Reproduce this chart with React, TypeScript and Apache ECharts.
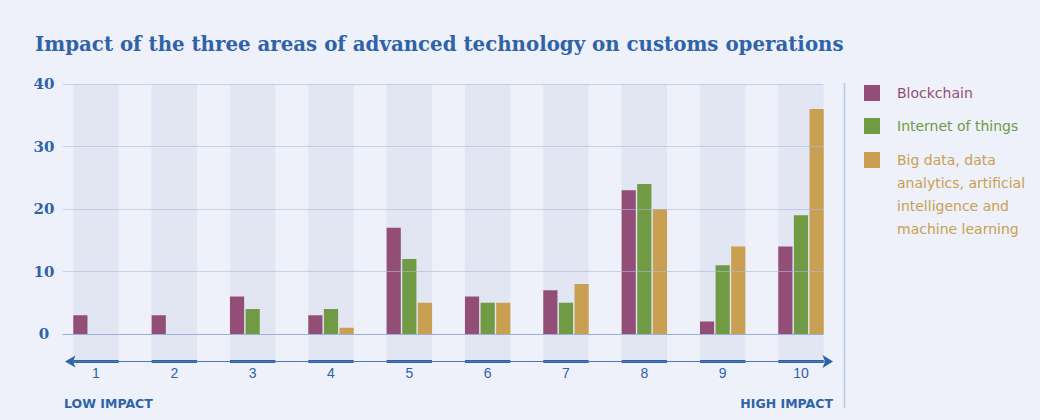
import React, { useEffect, useRef } from "react";
import * as echarts from "echarts";

const TITLE = "Impact of the three areas of advanced technology on customs operations";
const CATEGORIES = ["1", "2", "3", "4", "5", "6", "7", "8", "9", "10"];
const SERIES_NAMES = [
  "Blockchain",
  "Internet of things",
  "Big data, data analytics, artificial intelligence and machine learning",
];
const LEGEND_LABELS = [
  "Blockchain",
  "Internet of things",
  "Big data, data\nanalytics, artificial\nintelligence and\nmachine learning",
];
const BLOCKCHAIN = [3, 3, 6, 3, 17, 6, 7, 23, 2, 14];
const IOT = [0, 0, 4, 4, 12, 5, 5, 24, 11, 19];
const BIG_DATA = [0, 0, 0, 1, 5, 5, 8, 20, 14, 36];
const Y_MIN = 0;
const Y_MAX = 40;
const Y_INTERVAL = 10;
const LOW_LABEL = "LOW IMPACT";
const HIGH_LABEL = "HIGH IMPACT";

const BG = "#eef1f9";
const BAND = "#e1e6f2";
const BLUE = "#2f63a8";
const COLORS = ["#934e78", "#709a44", "#c9a052"];
const VALUES = [BLOCKCHAIN, IOT, BIG_DATA];

// layout constants
const PX_PER_UNIT = 250 / 40;
const AXIS_Y = 361.5;
const BAND_MIN = -(AXIS_Y - 334) / PX_PER_UNIT;
const LINE_H = 23;
// tall legend icon: square near the top, invisible zero-area anchors at top and bottom
const TALL_ICON = "path://M0,0L0.01,0M0,3.5L16,3.5L16,19.5L0,19.5ZM0,92L0.01,92";

export default function App() {
  const ref = useRef<HTMLDivElement>(null);

  useEffect(() => {
    document.body.style.margin = "0";
    if (!ref.current) return;
    const chart = echarts.init(ref.current, undefined, { renderer: "svg" });

    const barSeries = VALUES.map((vals, i) => ({
      type: "bar",
      name: SERIES_NAMES[i],
      xAxisIndex: 1,
      yAxisIndex: 1,
      data: vals,
      barCategoryGap: "42%",
      barGap: "10%",
      itemStyle: { color: COLORS[i] },
      z: 2,
    }));

    const legendText = {
      fontFamily: "DejaVu Sans",
      fontSize: 14,
      lineHeight: LINE_H,
      padding: [0, 0, 0, 12],
    };

    const option: any = {
      animation: false,
      backgroundColor: BG,
      title: {
        text: TITLE,
        left: 35,
        top: 34,
        padding: 0,
        textStyle: {
          color: BLUE,
          fontFamily: "DejaVu Serif",
          fontWeight: "bold",
          fontSize: 19.8,
        },
      },
      legend: [
        {
          orient: "vertical",
          left: 864,
          top: 81.5,
          padding: 0,
          itemWidth: 16,
          itemHeight: 16,
          itemGap: 10,
          icon: "rect",
          selectedMode: false,
          formatter: (name: string) => LEGEND_LABELS[SERIES_NAMES.indexOf(name)],
          textStyle: legendText,
          data: [0, 1].map((i) => ({
            name: SERIES_NAMES[i],
            itemStyle: { color: COLORS[i] },
            textStyle: { color: COLORS[i] },
          })),
        },
        {
          orient: "vertical",
          left: 864,
          top: 148.5,
          padding: 0,
          itemWidth: 16,
          itemHeight: 92,
          icon: TALL_ICON,
          selectedMode: false,
          formatter: (name: string) => LEGEND_LABELS[SERIES_NAMES.indexOf(name)],
          textStyle: legendText,
          data: [2].map((i) => ({
            name: SERIES_NAMES[i],
            itemStyle: { color: COLORS[i] },
            textStyle: { color: COLORS[i] },
          })),
        },
      ],
      grid: [
        { left: 63, top: 84, width: 760, height: 250 },
        { left: 56.83, top: 84, width: 783.33, height: AXIS_Y - 84 },
      ],
      xAxis: [
        {
          type: "value",
          gridIndex: 0,
          min: 0,
          max: 1,
          z: 10,
          axisLine: { show: true, onZero: false, lineStyle: { color: "rgba(150,168,208,0.85)", width: 1 } },
          axisTick: { show: false },
          axisLabel: { show: false },
          splitLine: { show: false },
        },
        {
          type: "category",
          gridIndex: 1,
          data: CATEGORIES,
          boundaryGap: true,
          axisLine: { show: false },
          axisTick: { show: false },
          axisLabel: {
            color: BLUE,
            fontFamily: "Liberation Sans",
            fontSize: 14,
            margin: 4.5,
          },
        },
      ],
      yAxis: [
        {
          type: "value",
          gridIndex: 0,
          min: Y_MIN,
          max: Y_MAX,
          interval: Y_INTERVAL,
          z: 10,
          axisLine: { show: false },
          axisTick: { show: false },
          axisLabel: {
            color: BLUE,
            fontFamily: "DejaVu Serif",
            fontWeight: "bold",
            fontSize: 15,
            align: "center",
            margin: 19,
          },
          splitLine: { show: true, lineStyle: { color: "rgba(170,186,222,0.6)", width: 1 } },
        },
        {
          type: "value",
          gridIndex: 1,
          min: BAND_MIN,
          max: Y_MAX,
          show: false,
          splitLine: { show: false },
        },
      ],
      series: [
        {
          type: "custom",
          name: "bands",
          xAxisIndex: 1,
          yAxisIndex: 1,
          z: 0,
          silent: true,
          data: CATEGORIES.map((_, i) => [i, 0]),
          renderItem: (params: any, api: any) => {
            const idx = api.value(0);
            const x = api.coord([idx, 0])[0];
            const top = api.coord([idx, Y_MAX])[1];
            const bottom = api.coord([idx, BAND_MIN])[1];
            const bw = api.size([1, 0])[0] * 0.58;
            return {
              type: "group",
              children: [
                {
                  type: "rect",
                  shape: { x: x - bw / 2, y: top, width: bw, height: bottom - top },
                  style: { fill: BAND },
                },
                {
                  type: "rect",
                  shape: { x: x - bw / 2, y: bottom - 1.5, width: bw, height: 3 },
                  style: { fill: BLUE },
                },
              ],
            };
          },
        },
        ...barSeries,
      ],
      graphic: [
        {
          type: "line",
          shape: { x1: 70, y1: AXIS_Y, x2: 828, y2: AXIS_Y },
          style: { stroke: "#4a78bb", lineWidth: 1 },
          z: 5,
        },
        {
          type: "polygon",
          shape: { points: [[65, AXIS_Y], [75.5, AXIS_Y - 6], [73, AXIS_Y], [75.5, AXIS_Y + 6]] },
          style: { fill: BLUE },
          z: 6,
        },
        {
          type: "polygon",
          shape: { points: [[833, AXIS_Y], [822.5, AXIS_Y - 6.5], [825, AXIS_Y], [822.5, AXIS_Y + 6.5]] },
          style: { fill: BLUE },
          z: 6,
        },
        {
          type: "line",
          shape: { x1: 844.5, y1: 83, x2: 844.5, y2: 408 },
          style: { stroke: "#b6c9e3", lineWidth: 1.5 },
        },
        {
          type: "text",
          x: 64,
          y: 403,
          style: {
            text: LOW_LABEL,
            fill: BLUE,
            font: "bold 12.5px 'DejaVu Sans'",
            textAlign: "left",
            textVerticalAlign: "middle",
          },
        },
        {
          type: "text",
          x: 833,
          y: 403,
          style: {
            text: HIGH_LABEL,
            fill: BLUE,
            font: "bold 12.5px 'DejaVu Sans'",
            textAlign: "right",
            textVerticalAlign: "middle",
          },
        },
      ],
    };

    chart.setOption(option);
    return () => chart.dispose();
  }, []);

  return <div ref={ref} style={{ width: 1040, height: 420 }} />;
}
